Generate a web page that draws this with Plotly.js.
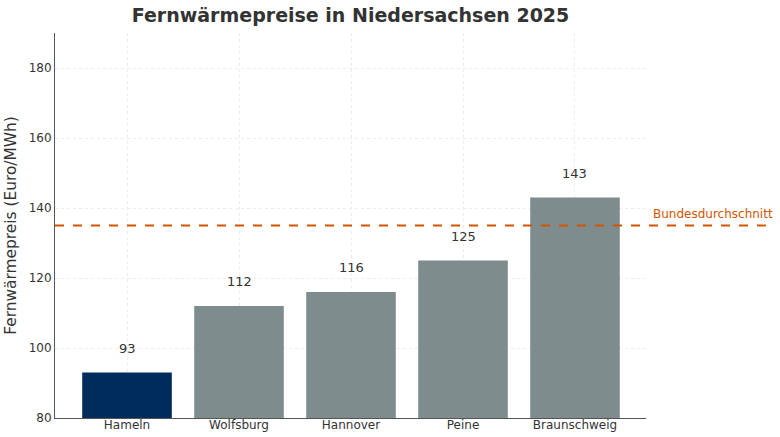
<!DOCTYPE html>
<html>
<head>
<meta charset="utf-8">
<script src="https://cdn.plot.ly/plotly-3.0.1.min.js"></script>
<style>html,body{margin:0;padding:0;background:#fff;}#chart{width:780px;height:437px;}</style>
</head>
<body>
<div id="chart"></div>
<script>
const cities = ["Hameln", "Wolfsburg", "Hannover", "Peine", "Braunschweig"];
const prices = [93, 112, 116, 125, 143];
const barColors = ["#002c5c", "#7f8c8d", "#7f8c8d", "#7f8c8d", "#7f8c8d"];
const nationalAverage = 135;
const averageLabel = "Bundesdurchschnitt";
const yTicks = [80, 100, 120, 140, 160, 180];

const font = "DejaVu Sans, sans-serif";

const trace = {
  type: "bar",
  x: cities,
  y: prices,
  base: 0,
  width: 0.8,
  marker: { color: barColors, line: { width: 0 } },
  hoverinfo: "skip"
};

const annotations = cities.map((c, i) => ({
  x: c, y: prices[i] + 7, xref: "x", yref: "y",
  text: String(prices[i]), showarrow: false,
  font: { family: font, size: 13, color: "#333333" },
  xanchor: "center", yanchor: "middle"
}));
annotations.push({
  x: 1.009, y: nationalAverage + 3.3, xref: "paper", yref: "y",
  text: averageLabel, showarrow: false, xanchor: "left", yanchor: "middle",
  font: { family: font, size: 12, color: "#d35400" }
});

const layout = {
  width: 780, height: 437,
  margin: { l: 55, r: 134, t: 33, b: 19, pad: 0 },
  paper_bgcolor: "#ffffff", plot_bgcolor: "#ffffff",
  font: { family: font, color: "#333333" },
  title: {
    text: "<b>Fernwärmepreise in Niedersachsen 2025</b>",
    font: { family: font, size: 19, color: "#333333" },
    x: 0.4494, xanchor: "center", y: 0.966, yanchor: "middle"
  },
  xaxis: {
    type: "category",
    range: [-0.643, 4.634],
    showgrid: true, gridcolor: "#ececec", gridwidth: 1, griddash: "dot",
    showline: true, linecolor: "#555555", linewidth: 1,
    ticks: "", ticklabelstandoff: -4,
    tickfont: { family: font, size: 12, color: "#333333" },
    zeroline: false, fixedrange: true
  },
  yaxis: {
    range: [80, 190],
    tickvals: yTicks, ticktext: yTicks.map(String),
    showgrid: true, gridcolor: "#ececec", gridwidth: 1, griddash: "dot",
    showline: true, linecolor: "#555555", linewidth: 1,
    ticks: "", ticklen: 0, tickfont: { family: font, size: 12, color: "#333333" },
    title: { text: "Fernwärmepreis (Euro/MWh)", font: { family: font, size: 15.4, color: "#333333" }, standoff: 8 },
    zeroline: false, fixedrange: true
  },
  shapes: [{
    type: "line", xref: "paper", yref: "y",
    x0: 0, x1: 1.218, y0: nationalAverage, y1: nationalAverage,
    line: { color: "#d35400", width: 1.8, dash: "dash" }, layer: "above"
  }],
  annotations: annotations,
  showlegend: false,
  bargap: 0.2
};

Plotly.newPlot("chart", [trace], layout, { displayModeBar: false, staticPlot: true });
</script>
</body>
</html>
